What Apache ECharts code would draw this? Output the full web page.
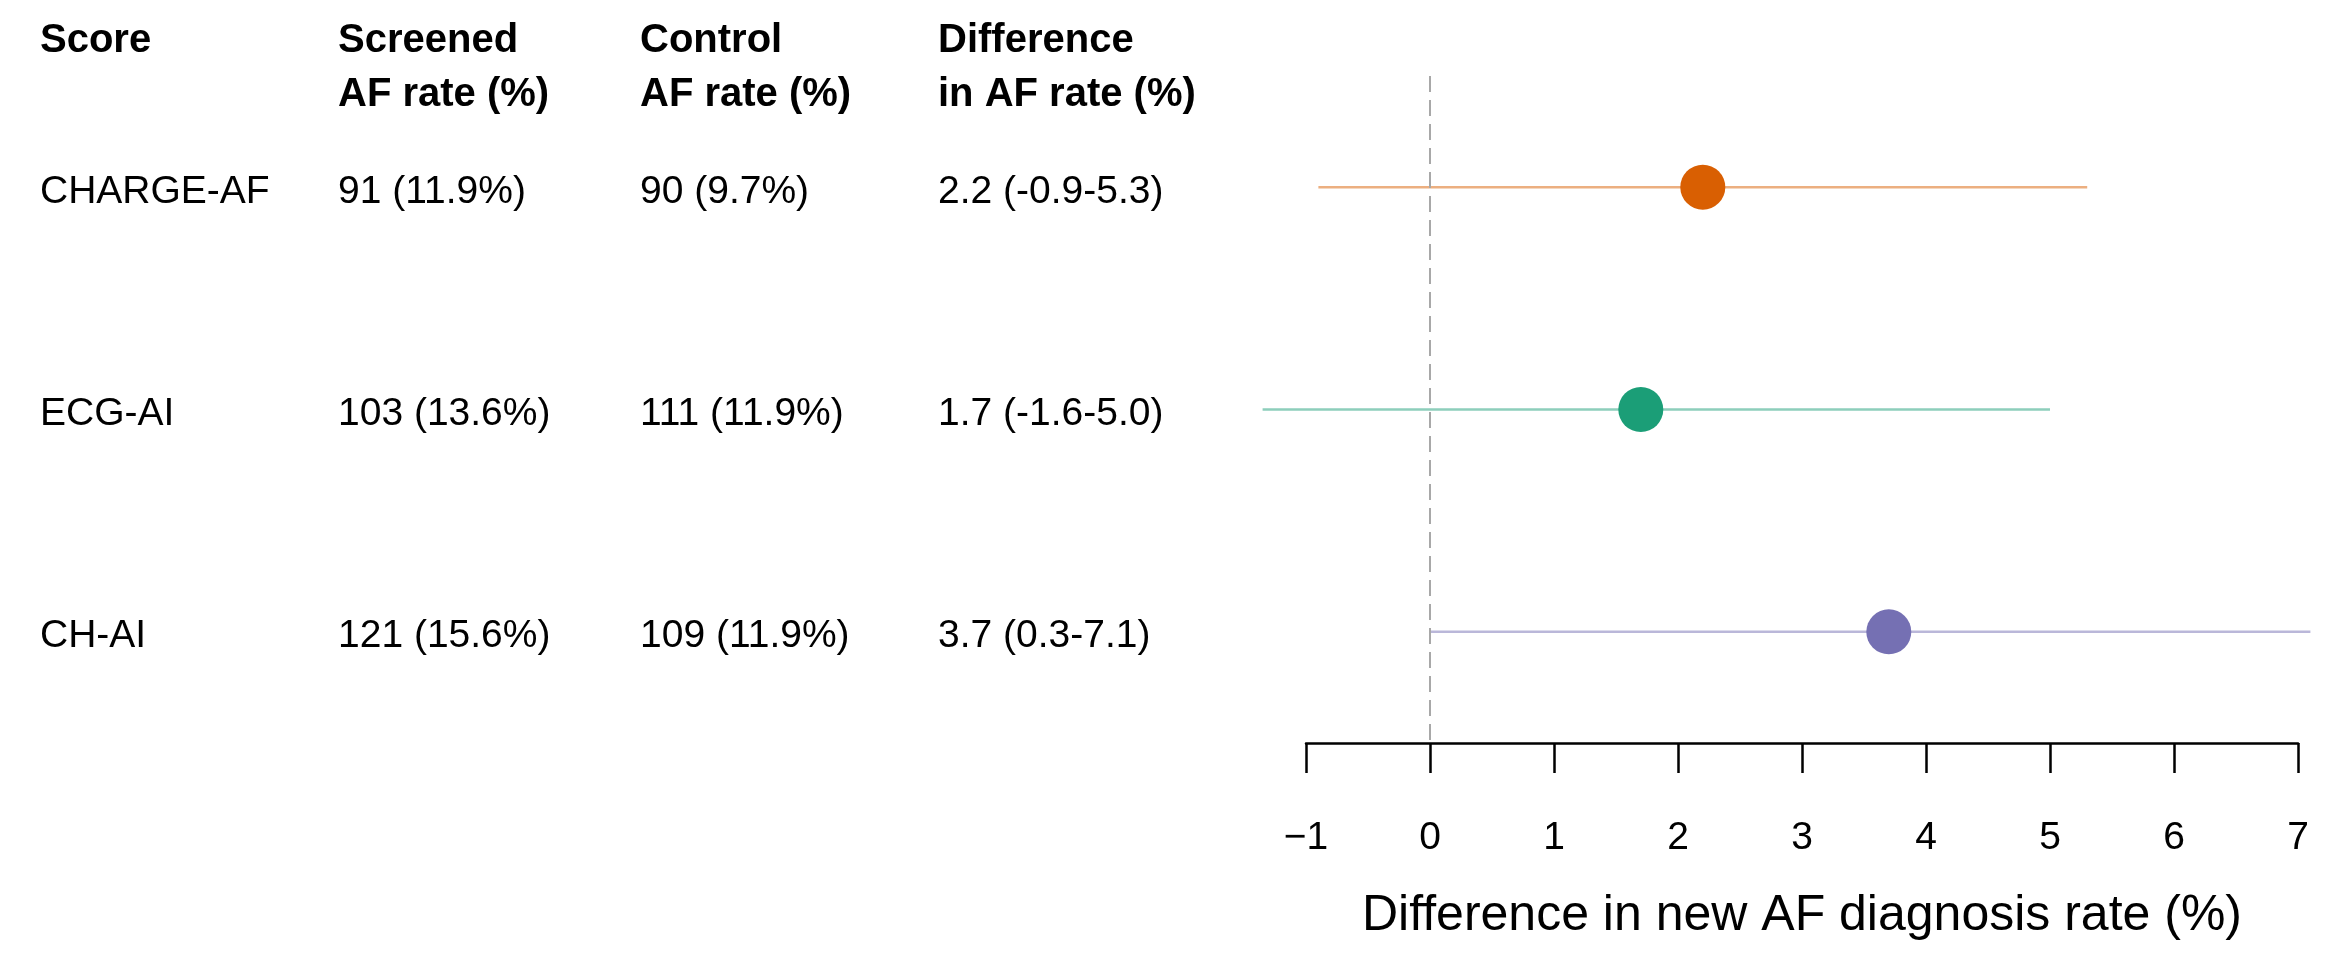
<!DOCTYPE html>
<html>
<head>
<meta charset="utf-8">
<script src="https://cdn.jsdelivr.net/npm/echarts@6/dist/echarts.min.js"></script>
<style>
html,body{margin:0;padding:0;background:#fff;}
#chart{width:2342px;height:956px;}
</style>
</head>
<body>
<div id="chart"></div>
<script>
// ---- data ----
var scores = ['CHARGE-AF', 'ECG-AI', 'CH-AI'];
var screenedText = ['91 (11.9%)', '103 (13.6%)', '121 (15.6%)'];
var controlText = ['90 (9.7%)', '111 (11.9%)', '109 (11.9%)'];
var diffText = ['2.2 (-0.9-5.3)', '1.7 (-1.6-5.0)', '3.7 (0.3-7.1)'];
var estimates = [2.2, 1.7, 3.7];
var ciLow = [-0.9, -1.35, 0.0];   // as drawn in the figure
var ciHigh = [5.3, 5.0, 7.1];
var headers = [['Score'], ['Screened', 'AF rate (%)'], ['Control', 'AF rate (%)'], ['Difference', 'in AF rate (%)']];
var xTicks = [-1, 0, 1, 2, 3, 4, 5, 6, 7];
var xTitle = 'Difference in new AF diagnosis rate (%)';

var pointColors = ['#D95F02', '#1B9E77', '#7570B3'];
var lineColors = ['rgba(217,95,2,0.5)', 'rgba(27,158,119,0.5)', 'rgba(117,112,179,0.5)'];

var FONT = '"Liberation Sans", Arial, Helvetica, sans-serif';
var colX = [40, 338, 640, 938];
var rowY = [194, 416, 638];

var chart = echarts.init(document.getElementById('chart'), null, {renderer: 'canvas'});

var graphics = [];
headers.forEach(function (lines, c) {
  lines.forEach(function (t, li) {
    graphics.push({type: 'text', left: colX[c], top: 21 + li * 54,
      style: {text: t, font: 'bold 40px ' + FONT, fill: '#000'}});
  });
});
var cols = [scores, screenedText, controlText, diffText];
cols.forEach(function (arr, c) {
  arr.forEach(function (t, r) {
    graphics.push({type: 'text', left: colX[c], top: rowY[r] - 21,
      style: {text: t, font: '39px ' + FONT, fill: '#000'}});
  });
});

var option = {
  backgroundColor: '#fff',
  animation: false,
  graphic: graphics,
  grid: {left: 1306, width: 992, top: 76, height: 667, containLabel: false},
  xAxis: {
    type: 'value', min: -1, max: 7, interval: 1,
    splitLine: {show: false},
    axisLine: {show: true, onZero: false, lineStyle: {color: '#000', width: 2.5}},
    axisTick: {show: true, length: 30, lineStyle: {color: '#000', width: 2.5}},
    axisLabel: {margin: 76, fontSize: 39, fontFamily: FONT, color: '#000',
      formatter: function (v) { return v < 0 ? '\u2212' + Math.abs(v) : String(v); }},
    name: xTitle, nameLocation: 'middle', nameGap: 148,
    nameTextStyle: {fontSize: 50, fontFamily: FONT, color: '#000'}
  },
  yAxis: {
    type: 'value', min: -0.5, max: 2.5, inverse: true, show: false
  },
  series: [
    {
      type: 'custom',
      clip: false,
      renderItem: function (params, api) {
        var i = api.value(2);
        var p1 = api.coord([api.value(0), i]);
        var p2 = api.coord([api.value(1), i]);
        return {type: 'line', shape: {x1: p1[0], y1: p1[1], x2: p2[0], y2: p2[1]},
          style: {stroke: lineColors[i], lineWidth: 2.5}};
      },
      data: ciLow.map(function (l, i) { return [l, ciHigh[i], i]; }),
      z: 2
    },
    {
      type: 'scatter',
      symbol: 'circle',
      symbolSize: 45,
      clip: false,
      data: estimates.map(function (e, i) { return {value: [e, i], itemStyle: {color: pointColors[i], opacity: 1}}; }),
      markLine: {
        silent: true, symbol: 'none', label: {show: false},
        lineStyle: {color: '#A8A8A8', type: [16, 8], width: 2},
        data: [[{coord: [0, -0.5]}, {coord: [0, 2.5]}]]
      },
      z: 3
    }
  ]
};
chart.setOption(option);
</script>
</body>
</html>
